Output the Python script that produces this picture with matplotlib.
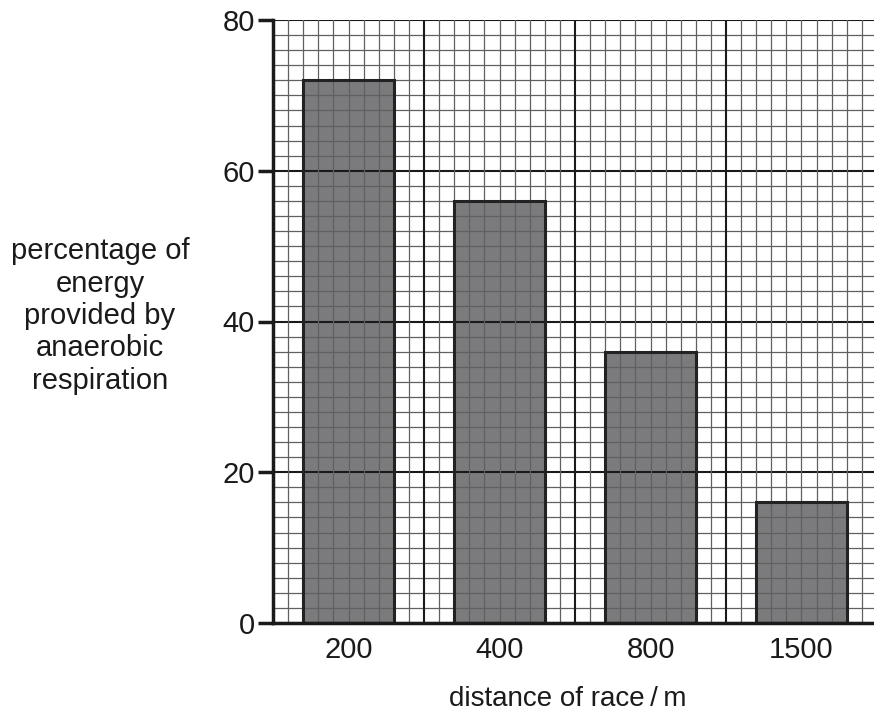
import matplotlib.pyplot as plt
import numpy as np

# data
distances = ['200', '400', '800', '1500']
anaerobic_pct = [72, 56, 36, 16]

plt.rcParams['font.family'] = ['Liberation Sans', 'DejaVu Sans']

fig = plt.figure(figsize=(8.74, 7.15), dpi=100)
ax = fig.add_axes([273 / 874, 92 / 715, 604 / 874, 603 / 715])

x = np.arange(len(distances))
ax.set_xlim(-0.5, 3.5)
ax.set_ylim(0, 80)

# bars: fill under the graph paper, outline on top
ax.bar(x, anaerobic_pct, width=0.6, color='#7b7b7d', zorder=2, linewidth=0)
ax.bar(x, anaerobic_pct, width=0.6, facecolor='none', edgecolor='#222222',
       linewidth=2.2, zorder=4)

# graph paper grid: small squares 2 units high, 0.1 category wide
for i in range(41):
    yv = i * 2
    major = (i % 10 == 0)
    ax.axhline(yv, color='#1a1a1a' if major else '#606060',
               lw=1.5 if major else 0.9, zorder=3)
for i in range(41):
    xv = -0.5 + i * 0.1
    major = (i % 10 == 0)
    ax.axvline(xv, color='#1a1a1a' if major else '#606060',
               lw=1.5 if major else 0.9, zorder=3)

for side in ['top', 'right']:
    ax.spines[side].set_visible(False)
for side in ['left', 'bottom']:
    ax.spines[side].set_linewidth(2.5)
    ax.spines[side].set_color('#1a1a1a')
    ax.spines[side].set_zorder(5)

ax.set_yticks([0, 20, 40, 60, 80])
ax.set_xticks(x)
ax.set_xticklabels(distances)
ax.tick_params(axis='y', length=11, width=2.5, labelsize=21, pad=2,
               color='#1a1a1a', labelcolor='#1a1a1a')
ax.tick_params(axis='x', length=0, labelsize=21, pad=9,
               labelcolor='#1a1a1a')

fig.text(100 / 874, 1 - 316 / 715,
         'percentage of\nenergy\nprovided by\nanaerobic\nrespiration',
         ha='center', va='center', fontsize=21, linespacing=1.2,
         color='#1a1a1a')
fig.text(568 / 874, 1 - 699 / 715, 'distance of race\u2009/\u2009m',
         ha='center', va='center', fontsize=20, color='#1a1a1a')

fig.savefig('out.png', dpi=100)
